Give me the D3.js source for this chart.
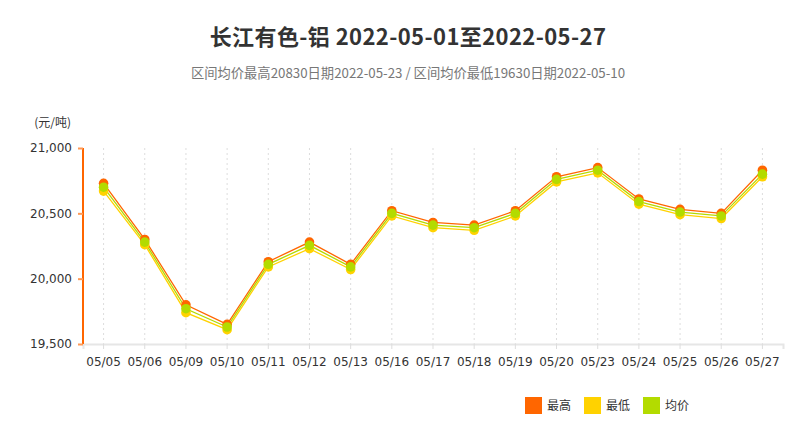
<!DOCTYPE html>
<html><head><meta charset="utf-8">
<script src="https://cdn.jsdelivr.net/npm/d3@7/dist/d3.min.js"></script>
<style>
html,body{margin:0;padding:0;background:#fff;}
svg{display:block;font-family:"Noto Sans CJK SC","Noto Sans",sans-serif;}
</style></head>
<body>
<svg id="chart" width="800" height="423"></svg>
<script>
// 长江有色-铝 daily quotes
const dates = ["05/05","05/06","05/09","05/10","05/11","05/12","05/13","05/16","05/17","05/18","05/19","05/20","05/23","05/24","05/25","05/26","05/27"];
const highVals = [20730,20300,19800,19650,20130,20280,20110,20520,20430,20410,20520,20780,20850,20610,20530,20500,20830];
const lowVals  = [20670,20260,19740,19610,20090,20230,20070,20480,20390,20370,20480,20740,20810,20570,20490,20460,20780];
const avgVals  = [20700,20280,19770,19630,20110,20255,20090,20500,20410,20390,20500,20760,20830,20590,20510,20480,20800];
const yTicks = [19500,20000,20500,21000];
const seriesNames = ["最高","最低","均价"];
const seriesColors = ["#FF6600","#FFD200","#B3DB00"];

const svg = d3.select("#chart");
const plotLeft = 83, plotRight = 783, plotTop = 148, plotBottom = 344;
const numFont = "'DejaVu Sans',Verdana,sans-serif";

const x = d3.scaleBand().domain(dates).range([plotLeft, plotRight]);
const y = d3.scaleLinear().domain([19500, 21000]).range([plotBottom, plotTop]);
const cx = d => x(d) + x.bandwidth() / 2;

// titles
svg.append("text").attr("x", 408).attr("y", 45).attr("text-anchor", "middle")
  .attr("font-size", 22).attr("font-weight", "bold").attr("fill", "#333")
  .attr("letter-spacing", 0.4)
  .text("长江有色-铝 2022-05-01至2022-05-27");
svg.append("text").attr("x", 408).attr("y", 78).attr("text-anchor", "middle")
  .attr("font-size", 13.3).attr("fill", "#777")
  .text("区间均价最高20830日期2022-05-23 / 区间均价最低19630日期2022-05-10");
svg.append("text").attr("x", 71).attr("y", 127).attr("text-anchor", "end")
  .attr("font-size", 12).attr("fill", "#333").text("(元/吨)");

// vertical dashed grid
svg.append("g").selectAll("line").data(dates).join("line")
  .attr("x1", cx).attr("x2", cx).attr("y1", plotTop).attr("y2", plotBottom)
  .attr("stroke", "#ddd").attr("stroke-dasharray", "2,3");

// x axis
const xAxis = svg.append("g").attr("transform", `translate(0,${plotBottom})`)
  .call(d3.axisBottom(x).tickSize(5).tickPadding(8));
xAxis.select(".domain").attr("stroke", "#e6e6e6").attr("stroke-width", 2);
xAxis.selectAll(".tick line").attr("stroke", "#ddd");
xAxis.selectAll(".tick text").attr("font-size", 12).attr("fill", "#333")
  .attr("font-family", numFont);

// y axis
const yAxis = svg.append("g").attr("transform", `translate(${plotLeft},0)`)
  .call(d3.axisLeft(y).tickValues(yTicks).tickFormat(d3.format(",")).tickSize(5).tickPadding(6));
yAxis.select(".domain").attr("stroke", "#FF6600").attr("stroke-width", 2)
  .attr("d", `M0,${plotTop}V${plotBottom}`);
yAxis.selectAll(".tick line").attr("stroke", "#FF9955").attr("stroke-width", 2);
yAxis.selectAll(".tick text").attr("fill", "#333")
  .attr("font-family", numFont).attr("font-size", 12);

// series
const series = [highVals, lowVals, avgVals];
const line = d3.line().x((d, i) => cx(dates[i])).y(d => y(d));
series.forEach((vals, k) => {
  svg.append("path").datum(vals).attr("d", line).attr("fill", "none")
    .attr("stroke", seriesColors[k]).attr("stroke-width", 1.3);
});
series.forEach((vals, k) => {
  svg.append("g").selectAll("circle").data(vals).join("circle")
    .attr("cx", (d, i) => cx(dates[i])).attr("cy", d => y(d)).attr("r", 4.8)
    .attr("fill", seriesColors[k]);
});

// legend
const legendX = [525, 584, 643];
const lg = svg.append("g");
seriesNames.forEach((n, k) => {
  lg.append("rect").attr("x", legendX[k]).attr("y", 397).attr("width", 17).attr("height", 17)
    .attr("fill", seriesColors[k]);
  lg.append("text").attr("x", legendX[k] + 22).attr("y", 410).attr("font-size", 12)
    .attr("fill", "#333").text(n);
});
</script>
</body></html>
